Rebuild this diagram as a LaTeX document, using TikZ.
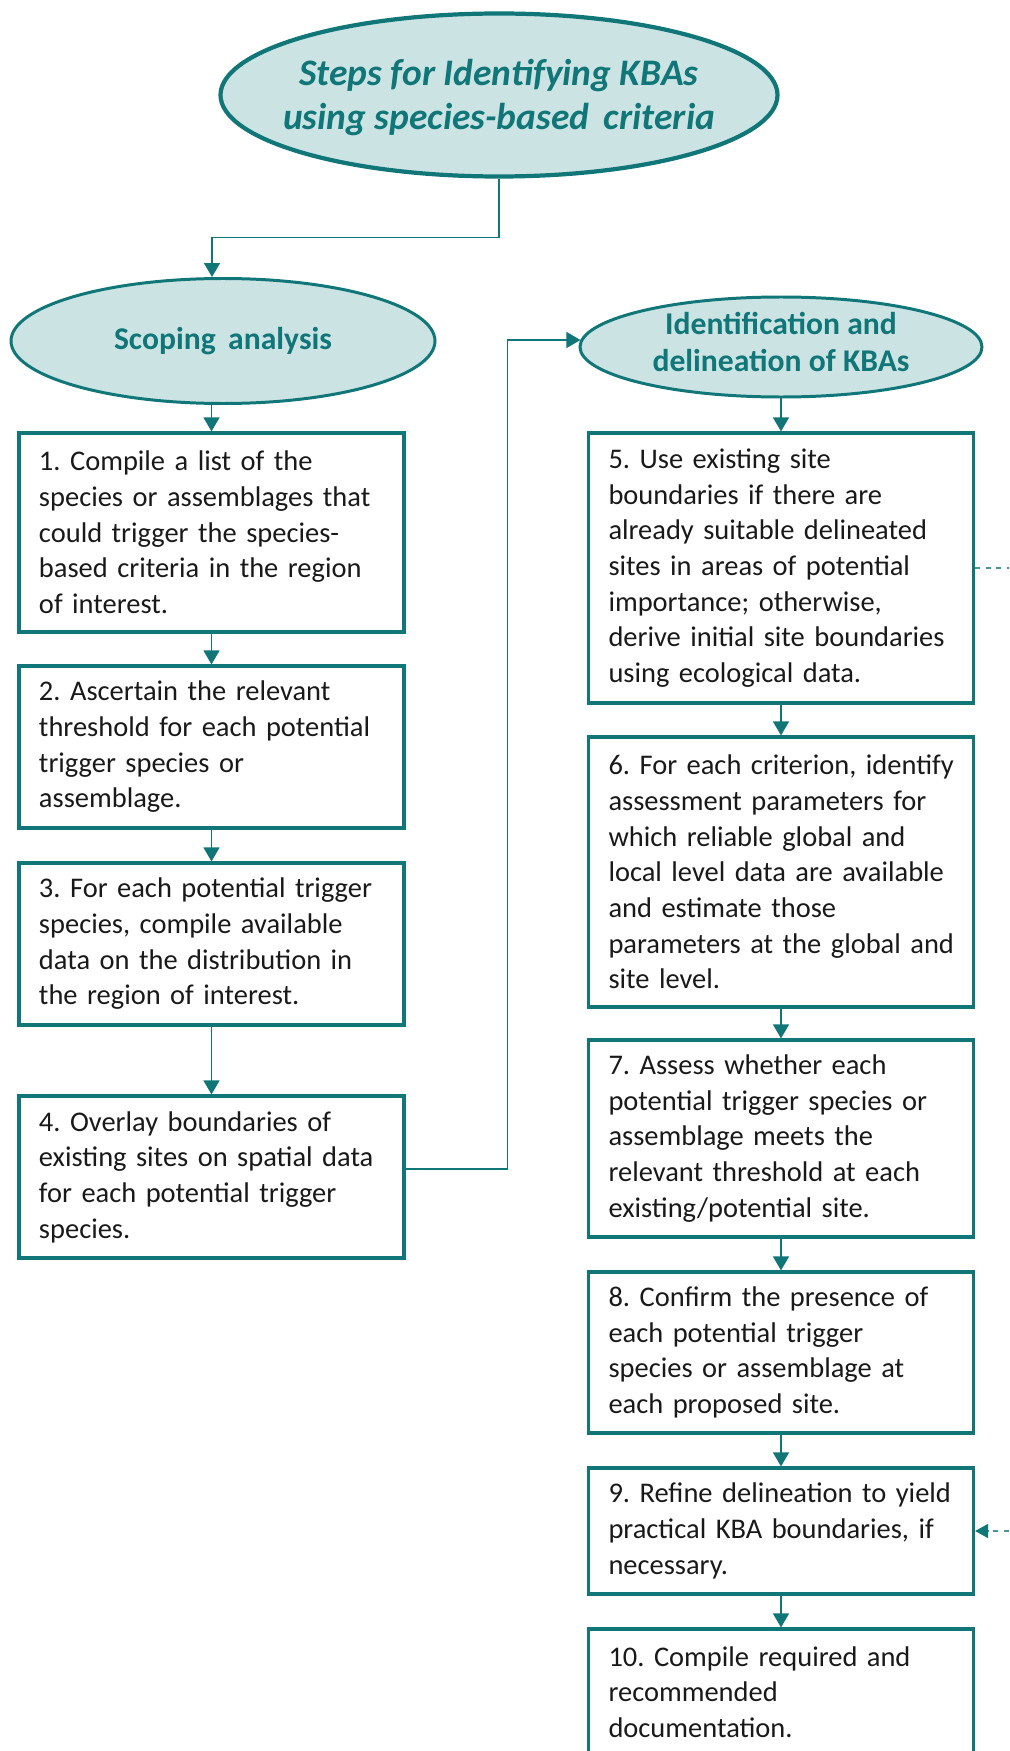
\documentclass[tikz,border=0pt]{standalone}
\usepackage{fontspec}
\setmainfont{Carlito}
\usepackage{xcolor}
\usepackage{tikz}
\usetikzlibrary{positioning}
\usetikzlibrary{calc}
\usetikzlibrary{shapes.geometric, arrows.meta}
\definecolor{kbateal}{RGB}{16,118,120}
\definecolor{kbafill}{RGB}{204,227,228}
\definecolor{kbalight}{RGB}{70,150,152}
\frenchspacing
\hyphenpenalty=10000
\tikzset{stepbox/.style={rectangle, draw=kbateal, line width=1.8pt, text width=7.2cm, inner xsep=0.25cm, align=left, execute at begin node={\leftskip=0.15cm}, text=black!90, font=\fontsize{16.2}{20.3}\selectfont}}
\tikzset{oval/.style={ellipse, draw=kbateal, fill=kbafill, line width=1.7pt}}
\tikzset{ovaltext/.style={text=kbateal, align=center, font=\bfseries\fontsize{18}{21.6}\selectfont}}
\tikzset{link/.style={draw=kbateal, line width=0.8pt}}
\tikzset{dashlink/.style={draw=kbalight, dashed, line width=0.7pt}}

\begin{document}
\begin{tikzpicture}[>={Triangle[width=0.32cm, length=0.28cm]}]
		\useasboundingbox (0,0) rectangle (20.18,-35.02);
		\clip (0,0) rectangle (20.18,-35.02);

		\node[oval, line width=2.4pt, minimum width=11.14cm, minimum height=3.26cm] at (9.98,-1.9) (title) {};
		\node[ovaltext, font=\bfseries\itshape\fontsize{21.3}{25}\selectfont] at ($(title)+(0,-0.05)$) (title-txt) {Steps for Identifying KBAs\\using species-based\, criteria};
		\node[oval, minimum width=8.48cm, minimum height=2.5cm] at (4.46,-6.82) (scope) {};
		\node[ovaltext] at (scope) (scope-txt) {Scoping\, analysis};
		\node[oval, minimum width=8.04cm, minimum height=2.0cm] at (15.62,-6.94) (ident) {};
		\node[ovaltext] at ($(ident)+(0,0.1)$) (ident-txt) {Identification and\\delineation of KBAs};

		\node[stepbox, minimum height=3.98cm] at (4.23,-10.65) (box1) {1. Compile a list of the\\species or assemblages that\\could trigger the species-\\based criteria in the region\\of interest.};
		\node[stepbox, minimum height=3.24cm] at (4.23,-14.94) (box2) {2. Ascertain the relevant\\threshold for each potential\\trigger species or\\assemblage.};
		\node[stepbox, minimum height=3.24cm] at (4.23,-18.88) (box3) {3. For each potential trigger\\species, compile available\\data on the distribution in\\the region of interest.};
		\node[stepbox, minimum height=3.24cm] at (4.23,-23.54) (box4) {4. Overlay boundaries of\\existing sites on spatial data\\for each potential trigger\\species.};

		\node[stepbox, minimum height=5.4cm] at (15.62,-11.36) (box5) {5. Use existing site\\boundaries if there are\\already suitable delineated\\sites in areas of potential\\importance; otherwise,\\derive initial site boundaries\\using ecological data.};
		\node[stepbox, minimum height=5.4cm] at (15.62,-17.44) (box6) {6. For each criterion, identify\\assessment parameters for\\which reliable global and\\local level data are available\\and estimate those\\parameters at the global and\\site level.};
		\node[stepbox, minimum height=3.94cm] at (15.62,-22.77) (box7) {7. Assess whether each\\potential trigger species or\\assemblage meets the\\relevant threshold at each\\existing/potential site.};
		\node[stepbox, minimum height=3.22cm] at (15.62,-27.05) (box8) {8. Confirm the presence of\\each potential trigger\\species or assemblage at\\each proposed site.};
		\node[stepbox, minimum height=2.52cm] at (15.62,-30.62) (box9) {9. Refine delineation to yield\\practical KBA boundaries, if\\necessary.};
		\node[stepbox, minimum height=2.52cm] at (15.62,-33.84) (box10) {10. Compile required and\\recommended\\documentation.};

		\coordinate (bend) at (4.24,-4.75);
		\coordinate (edge) at (20.18,0);

		\draw[->, link] (title.south) |- (bend) -- (scope.north -| bend);
		\draw[->, link] (scope.south -| box1) -- (box1);
		\draw[->, link] (box1) -- (box2);
		\draw[->, link] (box2) -- (box3);
		\draw[->, link] (box3) -- (box4);
		\draw[->, link] ([yshift=1.6mm]box4.east) -- ++(2.04,0) |- (ident.178);
		\draw[->, link] (ident) -- (box5);
		\draw[->, link] (box5) -- (box6);
		\draw[->, link] (box6) -- (box7);
		\draw[->, link] (box7) -- (box8);
		\draw[->, link] (box8) -- (box9);
		\draw[->, link] (box9) -- (box10);
		\draw[dashlink] (box5.east) -- (box5.east -| edge);
		\draw[dashlink, -{Triangle[width=0.28cm, length=0.26cm, color=kbateal]}] (box9.east -| edge) -- (box9.east);
		\end{tikzpicture}
\end{document}
